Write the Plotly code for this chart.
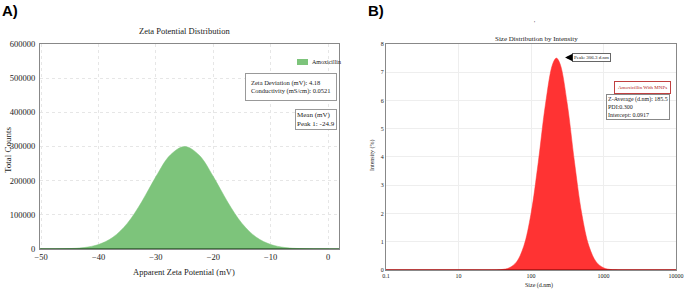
import plotly.graph_objects as go

# ---- Panel A: Zeta potential distribution ----
zeta_mv = [-50, -47.5, -45, -42.5, -40, -37.5, -35, -32.5, -30, -27.5, -25,
           -22.5, -20, -17.5, -15, -12.5, -10, -7.5, -5, -2.5, 0]
zeta_counts = [51, 265, 1160, 4260, 13200, 34300, 74800, 137300, 212000, 275100, 300000,
               275100, 212000, 137300, 74800, 34300, 13200, 4260, 1160, 265, 51]
zeta_xticks = [-50, -40, -30, -20, -10, 0]
zeta_yticks = [0, 100000, 200000, 300000, 400000, 500000, 600000]

# ---- Panel B: size distribution by intensity ----
size_dnm = [1, 10, 31.6, 39.8, 50.1, 63.1, 79.4, 100, 125.9, 158.5, 199.5, 223.9, 251.2,
            316.2, 398.1, 501.2, 631.0, 794.3, 1000, 1258.9, 1584.9, 3162, 10000]
intensity_pct = [0, 0, 0, 0.017, 0.078, 0.285, 0.84, 1.99, 3.81, 5.88, 7.30, 7.5, 7.30,
                 5.88, 3.81, 1.99, 0.84, 0.285, 0.078, 0.017, 0.003, 0, 0]
size_tickvals = [1, 10, 100, 1000, 10000]
size_ticktext = ["0.1", "10", "100", "1000", "10000"]
size_yticks = [0, 1, 2, 3, 4, 5, 6, 7, 8]

SERIF = "Liberation Serif"
GREEN = "#7dc47b"
RED = "#ff3333"
TXT = "#1a1a1a"

fig = go.Figure()
fig.add_trace(go.Scatter(x=zeta_mv, y=zeta_counts, mode="lines", line=dict(color=GREEN, width=0.5, shape="spline"),
                         fill="tozeroy", fillcolor=GREEN, name="Amoxicillin", xaxis="x", yaxis="y",
                         showlegend=False))
fig.add_trace(go.Scatter(x=size_dnm, y=intensity_pct, mode="lines", line=dict(color=RED, width=0.5, shape="spline"),
                         fill="tozeroy", fillcolor=RED, name="Amoxicillin With MNPs", xaxis="x2", yaxis="y2",
                         showlegend=False))

grid_a = dict(showgrid=True, gridcolor="#e6e6e6", griddash="dot", gridwidth=1)
fig.update_layout(
    template="none",
    width=685, height=290,
    margin=dict(l=0, r=0, t=0, b=0, autoexpand=False),
    paper_bgcolor="white", plot_bgcolor="white",
    font=dict(family=SERIF, color=TXT),
    showlegend=False,
    xaxis=dict(domain=[0.0584, 0.4949], range=[-50.2, 1.9], tickvals=zeta_xticks,
               showline=True, linecolor="#888", mirror=True, zeroline=False, automargin=False,
               tickfont=dict(size=8.5, family=SERIF, color=TXT), ticks="", **grid_a),
    yaxis=dict(domain=[0.1414, 0.8483], range=[0, 600000], tickvals=zeta_yticks, tickformat="d",
               showline=True, linecolor="#888", mirror=True, zeroline=False, automargin=False,
               ticklabelstandoff=2,
               tickfont=dict(size=8.5, family=SERIF, color=TXT), ticks="", **grid_a),
    xaxis2=dict(domain=[0.5635, 0.9869], type="log", range=[0, 4], tickvals=size_tickvals,
                ticktext=size_ticktext, showline=True, linecolor="#888", mirror=True, zeroline=False,
                automargin=False, ticks="",
                tickfont=dict(size=6, family=SERIF, color=TXT), showgrid=True, gridcolor="#eeeeee", anchor="y2"),
    yaxis2=dict(domain=[0.0690, 0.8483], range=[0, 8], tickvals=size_yticks,
                showline=True, linecolor="#888", mirror=True, zeroline=False, automargin=False,
                ticks="",
                tickfont=dict(size=6, family=SERIF, color=TXT), showgrid=True, gridcolor="#eeeeee", anchor="x2"),
)

# baselines
fig.add_shape(type="line", xref="x domain", yref="y", x0=0, x1=1, y0=0, y1=0,
              line=dict(color="#2e5e2c", width=1.5))
fig.add_shape(type="line", xref="x2 domain", yref="y2", x0=0, x1=1, y0=0, y1=0,
              line=dict(color="#a01010", width=1.5))
# legend swatch for panel A
fig.add_shape(type="rect", xref="paper", yref="paper", x0=297/685, x1=308/685,
              y0=1-65/290, y1=1-59/290, fillcolor=GREEN, line=dict(width=0))

def ann(text, x, y, size, **kw):
    d = dict(text=text, x=x, y=y, xref="paper", yref="paper", showarrow=False,
             xanchor="center", yanchor="middle",
             font=dict(size=size, family=SERIF, color=TXT))
    d.update(kw)
    fig.add_annotation(**d)

ann("<b>A)</b>", 0.0, 1.0, 15, xanchor="left", yanchor="top",
    font=dict(size=15, family="Liberation Sans", color="black"))
ann("<b>B)</b>", 366/685, 1.0, 15, xanchor="left", yanchor="top",
    font=dict(size=15, family="Liberation Sans", color="black"))
ann("Zeta Potential Distribution", 184/685, 1-31/290, 8.5)
ann("Apparent Zeta Potential (mV)", 184/685, 1-272/290, 8.5)
ann("Total Counts", 8/685, 1-150/290, 9, textangle=-90)
ann("Amoxicillin", 310/685, 1-62/290, 6, xanchor="left")
ann("Zeta Deviation (mV): 4.18<br>Conductivity (mS/cm): 0.0521", 337/685, 1-73/290, 6.5,
    xanchor="right", yanchor="top", align="left", bordercolor="#999", borderwidth=1,
    borderpad=5, bgcolor="white")
ann("Mean (mV)<br>Peak 1: -24.9", 337/685, 1-109/290, 7,
    xanchor="right", yanchor="top", align="left", bordercolor="#999", borderwidth=1,
    borderpad=1, bgcolor="white")

ann("Size Distribution by Intensity", 536/685, 1-39/290, 7)
ann("Size (d.nm)", 539/685, 1-285/290, 6)
ann("Intensity (%)", 372/685, 1-155/290, 6, textangle=-90)
ann("'", 534/685, 1-23/290, 6)
ann("Amoxicillin With MNPs", 642/685, 1-87/290, 5, bordercolor="#c04040", borderwidth=1,
    borderpad=3, bgcolor="white", font=dict(size=5, family=SERIF, color="#b02020"))
ann("Z-Average (d.nm): 185.5<br>PDI:0.300<br>Intercept: 0.0917", 670/685, 1-94/290, 6,
    xanchor="right", yanchor="top", align="left", bordercolor="#888", borderwidth=1,
    borderpad=1, bgcolor="white")
fig.add_annotation(text="Peak: 306.3 d.nm", xref="x2", yref="y2", x=2.47, y=7.52,
                   ax=26, ay=0, showarrow=True, arrowhead=2, arrowsize=1, arrowwidth=1.5,
                   arrowcolor="black", font=dict(size=5, family=SERIF, color=TXT),
                   bordercolor="#666", borderwidth=1, borderpad=1, bgcolor="white")

fig.write_html("out.html", config={"displayModeBar": False},
               post_script="document.body.style.margin='0';document.body.style.padding='0';")
